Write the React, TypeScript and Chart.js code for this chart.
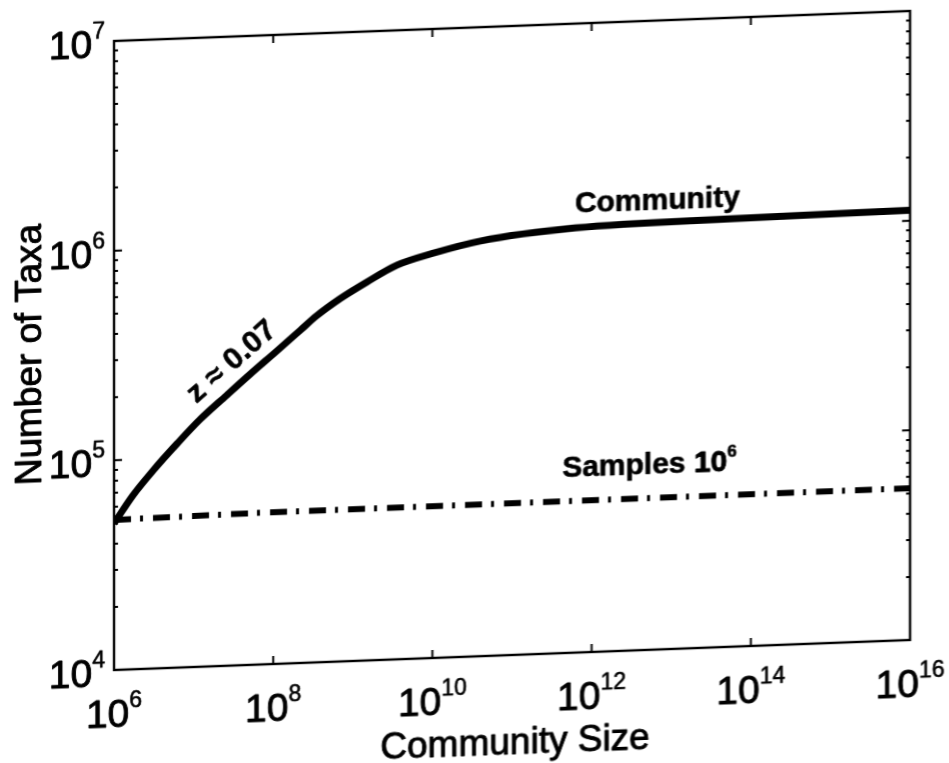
import { useEffect, useRef } from "react";
import { Chart, registerables } from "chart.js";

Chart.register(...registerables);

// Community curve: number of taxa against community size
const communitySize = [
  1e6, 1.7e6, 3.1e6, 6.2e6, 1.2e7, 2.6e7, 5.1e7, 1.1e8, 2.2e8, 3.5e8, 6.9e8,
  1.5e9, 3.6e9, 1e10, 4e10, 6.3e11, 6.3e13, 1e16,
];
const communityTaxa = [
  5.0e4, 6.7e4, 8.8e4, 1.17e5, 1.51e5, 1.95e5, 2.43e5, 3.1e5, 3.87e5, 4.49e5,
  5.37e5, 6.38e5, 7.59e5, 8.5e5, 9.55e5, 1.06e6, 1.1e6, 1.12e6,
];

// Taxa seen in 10^6 samples
const sampleCommunitySize = [1e6, 1e8, 1e10, 1e12, 1e14, 1e16];
const sampleTaxa = [5.2e4, 5.3e4, 5.3e4, 5.3e4, 5.3e4, 5.3e4];

// Decade exponents used for tick labels
const xTickPowers = [6, 8, 10, 12, 14, 16];
const yTickPowers = [4, 5, 6, 7];
const yMinorFactors = [2, 3, 4, 5, 6, 7, 8, 9];

const FONT = '"Liberation Sans", Arial, Helvetica, sans-serif';

// Fills text and gives it a thin outline so it prints heavier.
function heavyText(ctx: CanvasRenderingContext2D, s: string, x: number, y: number, w = 0.9) {
  ctx.fillText(s, x, y);
  ctx.lineWidth = w;
  ctx.lineJoin = "round";
  ctx.strokeText(s, x, y);
}

// Draws "10" followed by a raised exponent.
function drawPower(
  ctx: CanvasRenderingContext2D,
  exp: string,
  x: number,
  baseline: number,
  align: "center" | "right" | "left",
  baseSize: number,
  supSize: number,
  rise: number,
  weight = "normal"
) {
  ctx.font = `${weight} ${baseSize}px ${FONT}`;
  const w1 = ctx.measureText("10").width;
  ctx.font = `${weight} ${supSize}px ${FONT}`;
  const w2 = ctx.measureText(exp).width;
  const total = w1 + w2;
  let start = x;
  if (align === "center") start = x - total / 2;
  else if (align === "right") start = x - total;
  ctx.textAlign = "left";
  ctx.textBaseline = "alphabetic";
  ctx.font = `${weight} ${baseSize}px ${FONT}`;
  heavyText(ctx, "10", start, baseline);
  ctx.font = `${weight} ${supSize}px ${FONT}`;
  heavyText(ctx, exp, start + w1, baseline - rise, 0.6);
}

const axesPlugin = {
  id: "matlabAxes",
  afterDatasetsDraw(chart: any) {
    const { ctx, chartArea: a, scales } = chart;
    const xs = scales.x;
    const ys = scales.y;
    ctx.save();
    ctx.strokeStyle = "#000";
    ctx.fillStyle = "#000";
    ctx.lineWidth = 2.4;
    ctx.strokeRect(a.left, a.top, a.right - a.left, a.bottom - a.top);

    // inward ticks on the x axes
    ctx.beginPath();
    ctx.lineWidth = 2;
    for (const p of xTickPowers) {
      const px = xs.getPixelForValue(Math.pow(10, p));
      ctx.moveTo(px, a.bottom);
      ctx.lineTo(px, a.bottom - 8);
      ctx.moveTo(px, a.top);
      ctx.lineTo(px, a.top + 8);
    }
    // major and minor ticks on the y axes
    for (const p of yTickPowers) {
      const py = ys.getPixelForValue(Math.pow(10, p));
      ctx.moveTo(a.left, py);
      ctx.lineTo(a.left + 8, py);
      ctx.moveTo(a.right, py);
      ctx.lineTo(a.right - 8, py);
      if (p < yTickPowers[yTickPowers.length - 1]) {
        for (const f of yMinorFactors) {
          const my = ys.getPixelForValue(f * Math.pow(10, p));
          ctx.moveTo(a.left, my);
          ctx.lineTo(a.left + 4, my);
          ctx.moveTo(a.right, my);
          ctx.lineTo(a.right - 4, my);
        }
      }
    }
    ctx.stroke();

    // tick labels
    for (const p of xTickPowers) {
      const px = xs.getPixelForValue(Math.pow(10, p));
      drawPower(ctx, String(p), px, a.bottom + 57, "center", 39, 23, 19);
    }
    for (const p of yTickPowers) {
      const py = ys.getPixelForValue(Math.pow(10, p));
      drawPower(ctx, String(p), a.left - 9, py + 16, "right", 39, 23, 19);
    }

    // axis titles
    ctx.font = `37px ${FONT}`;
    ctx.textAlign = "center";
    ctx.textBaseline = "alphabetic";
    heavyText(ctx, "Community Size", (a.left + a.right) / 2 + 3, a.bottom + 99);
    ctx.save();
    ctx.translate(41, (a.top + a.bottom) / 2 - 4);
    ctx.rotate(-Math.PI / 2);
    heavyText(ctx, "Number of Taxa", 0, 0);
    ctx.restore();

    // curve annotations
    ctx.textAlign = "left";
    ctx.font = `bold 30px ${FONT}`;
    heavyText(
      ctx,
      "Community",
      xs.getPixelForValue(Math.pow(10, 11.79)),
      ys.getPixelForValue(Math.pow(10, 6.097)),
      0.6
    );

    const sx = xs.getPixelForValue(Math.pow(10, 11.63));
    const sy = ys.getPixelForValue(Math.pow(10, 4.84));
    ctx.font = `bold 30px ${FONT}`;
    heavyText(ctx, "Samples ", sx, sy, 0.6);
    const sw = ctx.measureText("Samples ").width;
    drawPower(ctx, "6", sx + sw, sy, "left", 30, 17, 14, "bold");

    ctx.save();
    ctx.translate(
      xs.getPixelForValue(Math.pow(10, 7.48)),
      ys.getPixelForValue(Math.pow(10, 5.448))
    );
    ctx.rotate((-40 * Math.PI) / 180);
    ctx.font = `bold 30px ${FONT}`;
    ctx.textAlign = "center";
    ctx.textBaseline = "middle";
    heavyText(ctx, "z \u2248 0.07", 0, 0, 0.6);
    ctx.restore();

    ctx.restore();
  },
};

export default function App() {
  const canvasRef = useRef<HTMLCanvasElement | null>(null);

  useEffect(() => {
    const canvas = canvasRef.current;
    if (!canvas) return;
    const chart = new Chart(canvas, {
      type: "line",
      data: {
        datasets: [
          {
            label: "Community",
            data: communitySize.map((x, i) => ({ x, y: communityTaxa[i] })),
            borderColor: "#000",
            borderWidth: 7,
            pointRadius: 0,
            cubicInterpolationMode: "monotone",
            fill: false,
            borderJoinStyle: "round",
          },
          {
            label: "Samples 10^6",
            data: sampleCommunitySize.map((x, i) => ({ x, y: sampleTaxa[i] })),
            borderColor: "#000",
            borderWidth: 6,
            borderDash: [17, 9, 3, 10],
            pointRadius: 0,
            tension: 0,
            fill: false,
          },
        ],
      },
      options: {
        responsive: false,
        maintainAspectRatio: false,
        animation: false,
        devicePixelRatio: 1,
        layout: { padding: { left: 114, top: 46, right: 39, bottom: 125 } },
        plugins: { legend: { display: false }, tooltip: { enabled: false } },
        scales: {
          x: { type: "logarithmic", min: 1e6, max: 1e16, display: false },
          y: { type: "logarithmic", min: 1e4, max: 1e7, display: false },
        },
      },
      plugins: [axesPlugin],
    });
    return () => chart.destroy();
  }, []);

  return (
    <div
      style={{
        position: "fixed",
        left: 0,
        top: 0,
        width: 949,
        height: 763,
        overflow: "hidden",
        background: "#fff",
      }}
    >
      <canvas
        ref={canvasRef}
        width={949}
        height={800}
        style={{
          position: "absolute",
          left: 0,
          top: -20,
          width: 949,
          height: 800,
          transform: "skewY(-2.16deg)",
          transformOrigin: "512px 0px",
        }}
      />
    </div>
  );
}
